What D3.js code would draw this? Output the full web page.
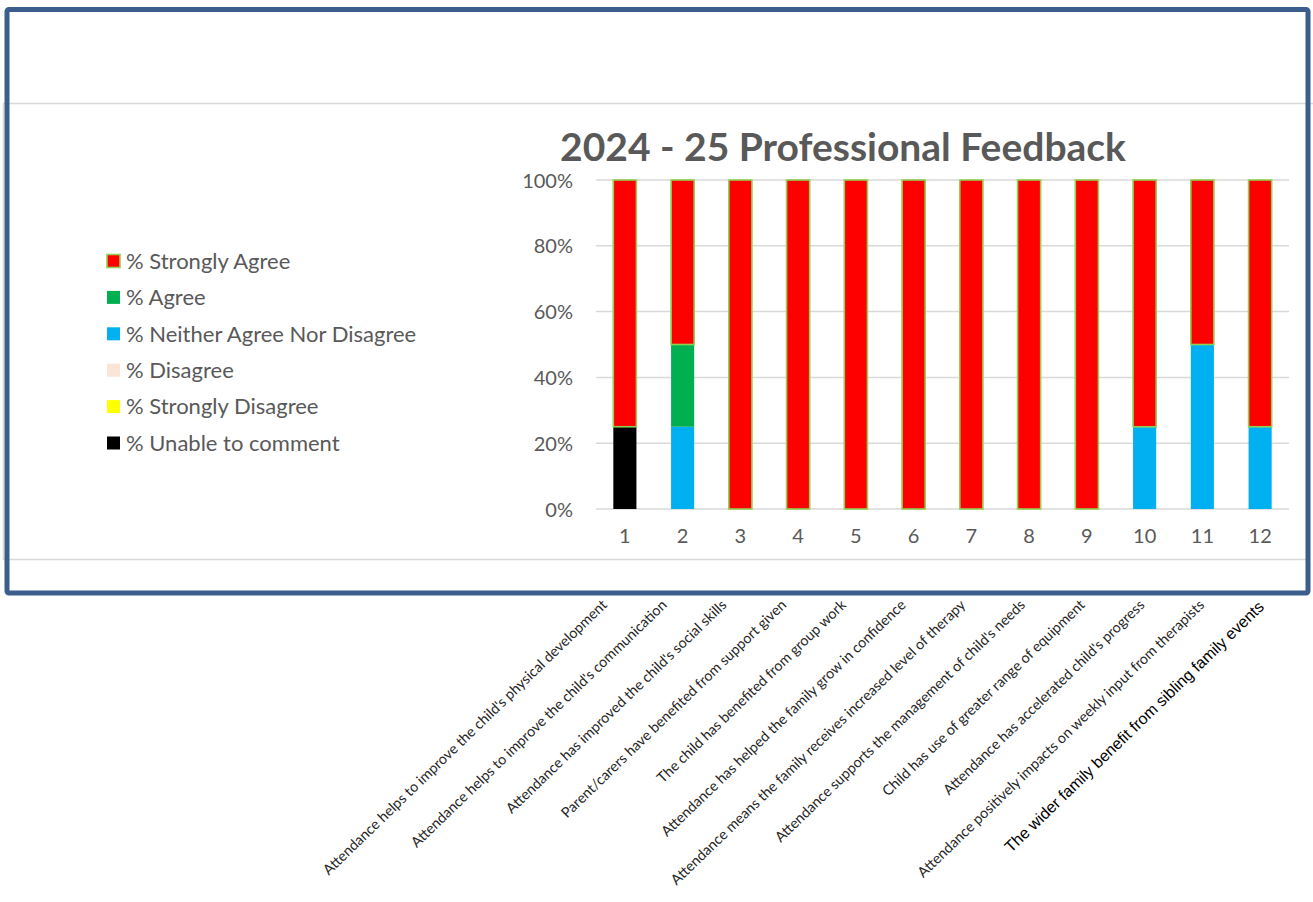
<!DOCTYPE html>
<html>
<head>
<meta charset="utf-8">
<script src="https://cdn.jsdelivr.net/npm/d3@7"></script>
<style>
  html, body { margin: 0; padding: 0; background: #fff; }
  svg { display: block; }
</style>
</head>
<body>
<svg id="chart" width="1313" height="902"></svg>
<script>
// ---- DATA ----
const categories = ["1","2","3","4","5","6","7","8","9","10","11","12"];
const statements = [
  "Attendance helps to improve the child's physical development",
  "Attendance  helps to improve the child's communication",
  "Attendance has improved the child's social skills",
  "Parent/carers have benefited from support given",
  "The child has benefited from group work",
  "Attendance has helped the family grow in confidence",
  "Attendance means the family receives increased level of therapy",
  "Attendance supports the management of child's needs",
  "Child has use of greater range of equipment",
  "Attendance has accelerated child's progress",
  "Attendance positively impacts on weekly input from therapists",
  "The wider family benefit from sibling family events"
];
const seriesNames = ["% Strongly Agree","% Agree","% Neither Agree Nor Disagree","% Disagree","% Strongly Disagree","% Unable to comment"];
const stronglyAgree = [75, 50, 100, 100, 100, 100, 100, 100, 100, 75, 50, 75];
const agree         = [0, 25, 0, 0, 0, 0, 0, 0, 0, 0, 0, 0];
const neither       = [0, 25, 0, 0, 0, 0, 0, 0, 0, 25, 50, 25];
const disagree      = [0, 0, 0, 0, 0, 0, 0, 0, 0, 0, 0, 0];
const stronglyDisagree = [0, 0, 0, 0, 0, 0, 0, 0, 0, 0, 0, 0];
const unable        = [25, 0, 0, 0, 0, 0, 0, 0, 0, 0, 0, 0];
const yTicks = [0, 20, 40, 60, 80, 100];
const title = "2024 - 25 Professional Feedback";

// ---- STYLE ----
const colors = {
  "% Strongly Agree": "#FF0000",
  "% Agree": "#00B050",
  "% Neither Agree Nor Disagree": "#00B0F0",
  "% Disagree": "#FBE5D6",
  "% Strongly Disagree": "#FFFF00",
  "% Unable to comment": "#000000"
};
const valuesBySeries = {
  "% Strongly Agree": stronglyAgree,
  "% Agree": agree,
  "% Neither Agree Nor Disagree": neither,
  "% Disagree": disagree,
  "% Strongly Disagree": stronglyDisagree,
  "% Unable to comment": unable
};
// stacking order bottom -> top
const stackOrder = ["% Unable to comment","% Strongly Disagree","% Disagree","% Neither Agree Nor Disagree","% Agree","% Strongly Agree"];

const table = categories.map((c, i) => {
  const row = { cat: c };
  seriesNames.forEach(s => row[s] = valuesBySeries[s][i]);
  return row;
});

const svg = d3.select("#chart");
const font = "Lato, 'Open Sans', sans-serif";
const textGray = "#595959";

// background frame lines
svg.append("line").attr("x1", 3).attr("x2", 1313).attr("y1", 103.5).attr("y2", 103.5)
  .attr("stroke", "#D9D9D9").attr("stroke-width", 1.5);
svg.append("line").attr("x1", 3).attr("x2", 1308).attr("y1", 559.5).attr("y2", 559.5)
  .attr("stroke", "#D9D9D9").attr("stroke-width", 1.5);
svg.append("line").attr("x1", 3.5).attr("x2", 3.5).attr("y1", 103).attr("y2", 560)
  .attr("stroke", "#D9D9D9").attr("stroke-width", 1.5);

// outer border
svg.append("rect").attr("x", 7).attr("y", 9.5).attr("width", 1301).attr("height", 583.5)
  .attr("rx", 2).attr("fill", "none").attr("stroke", "#3B5E8C").attr("stroke-width", 5);

// scales
const x = d3.scaleBand().domain(categories).range([596, 1289]).paddingInner(0.6).paddingOuter(0.3);
const y = d3.scaleLinear().domain([0, 100]).range([509, 180]);

// gridlines
svg.append("g").selectAll("line").data(yTicks).join("line")
  .attr("x1", 596).attr("x2", 1289)
  .attr("y1", d => y(d)).attr("y2", d => y(d))
  .attr("stroke", "#D9D9D9").attr("stroke-width", 1.5);

// y axis labels
const yAxis = d3.axisLeft(y).tickValues(yTicks).tickFormat(d => d + "%").tickSize(0).tickPadding(0);
const yg = svg.append("g").attr("transform", "translate(573,0)").call(yAxis);
yg.select(".domain").remove();
yg.selectAll("text").attr("font-family", font).attr("font-size", 20).attr("fill", textGray).attr("dy", "0.35em");

// x axis labels
const xAxis = d3.axisBottom(x).tickSize(0).tickPadding(0);
const xg = svg.append("g").attr("transform", "translate(0,529)").call(xAxis);
xg.select(".domain").remove();
xg.selectAll("text").attr("font-family", font).attr("font-size", 20).attr("fill", textGray).attr("dy", "0.71em");

// stacked bars
const stack = d3.stack().keys(stackOrder);
const layers = stack(table);
svg.append("g").selectAll("g").data(layers).join("g")
  .attr("fill", d => colors[d.key])
  .attr("stroke", d => d.key === "% Strongly Agree" ? "#92D050" : "none")
  .attr("stroke-width", 1.6)
  .selectAll("rect").data(d => d.filter(p => p[1] - p[0] > 0)).join("rect")
  .attr("x", d => x(d.data.cat))
  .attr("width", x.bandwidth())
  .attr("y", d => y(d[1]))
  .attr("height", d => y(d[0]) - y(d[1]));

// title
svg.append("text").attr("x", 843).attr("y", 161).attr("text-anchor", "middle")
  .attr("font-family", font).attr("font-weight", "bold").attr("font-size", 39)
  .attr("fill", textGray).text(title);

// legend
const legendY = d3.scalePoint().domain(seriesNames).range([261, 443]);
const lg = svg.append("g").selectAll("g").data(seriesNames).join("g")
  .attr("transform", d => `translate(107,${legendY(d)})`);
lg.append("rect").attr("x", 0).attr("y", -6.5).attr("width", 13).attr("height", 13)
  .attr("fill", d => colors[d])
  .attr("stroke", d => d === "% Strongly Agree" ? "#92D050" : "none").attr("stroke-width", 1.6);
lg.append("text").attr("x", 19).attr("y", 0).attr("dy", "0.35em")
  .attr("font-family", font).attr("font-size", 22).attr("fill", textGray).text(d => d);

// rotated statement labels
const lx = d3.scaleLinear().domain([0, categories.length - 1]).range([608, 1265]);
svg.append("g").selectAll("text").data(statements).join("text")
  .attr("transform", (d, i) => `translate(${lx(i)},${i === 11 ? 608 : 606}) rotate(-44)`)
  .attr("text-anchor", "end")
  .attr("font-family", (d, i) => i === 11 ? "'Liberation Sans', Arial, sans-serif" : font)
  .attr("font-size", (d, i) => i === 11 ? 16 : 14.4)
  .attr("fill", (d, i) => i === 11 ? "#000" : "#262626")
  .text(d => d);
</script>
</body>
</html>
